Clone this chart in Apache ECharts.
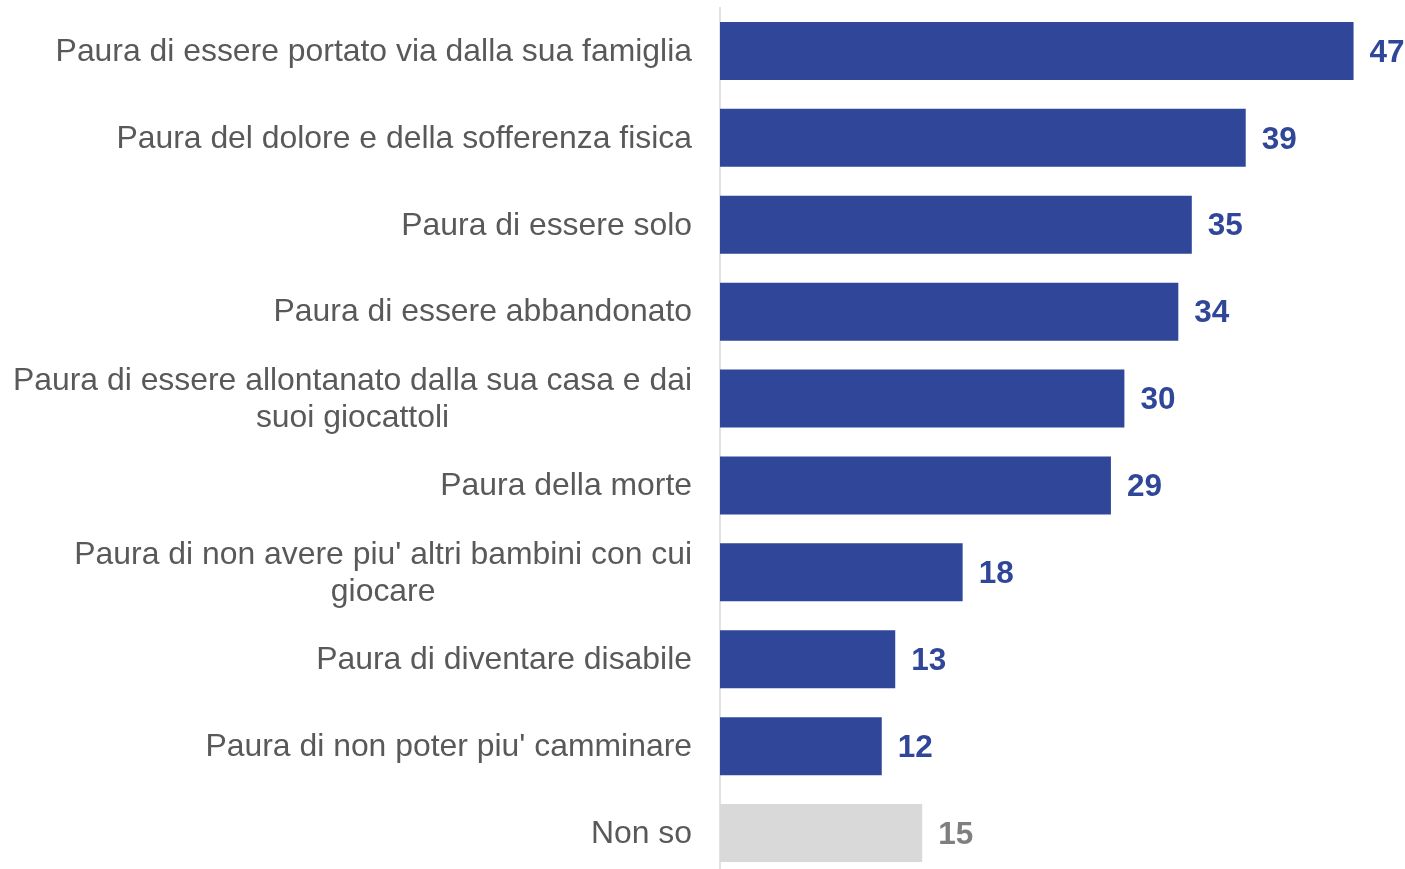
<!DOCTYPE html>
<html>
<head>
<meta charset="utf-8">
<script src="https://cdn.jsdelivr.net/npm/echarts@6/dist/echarts.min.js"></script>
<style>
  html, body { margin: 0; padding: 0; background: #ffffff; }
  #chart { width: 1405px; height: 869px; }
</style>
</head>
<body>
<div id="chart"></div>
<script>
// Fears, share of answers (%), listed top to bottom
const categories = [
  "Paura di essere portato via dalla sua famiglia",
  "Paura del dolore e della sofferenza fisica",
  "Paura di essere solo",
  "Paura di essere abbandonato",
  "Paura di essere allontanato dalla sua casa e dai\nsuoi giocattoli",
  "Paura della morte",
  "Paura di non avere piu' altri bambini con cui\ngiocare",
  "Paura di diventare disabile",
  "Paura di non poter piu' camminare",
  "Non so"
];
const values = [47, 39, 35, 34, 30, 29, 18, 13, 12, 15];
const neutralCategory = "Non so";

const BLUE = "#2F4699";
const GREY_BAR = "#D9D9D9";
const GREY_LABEL = "#7F7F7F";
const FONT = "'Liberation Sans', Arial, sans-serif";

const chart = echarts.init(document.getElementById("chart"), null, { renderer: "canvas" });

chart.setOption({
  animation: false,
  backgroundColor: "#ffffff",
  grid: {
    left: 720, top: 7.5, width: 674, height: 869,
    containLabel: false,
    outerBoundsMode: "none"
  },
  xAxis: {
    type: "value",
    min: 0,
    max: 50,
    show: false
  },
  yAxis: {
    type: "category",
    data: categories,
    inverse: true,
    axisLine: { show: true, lineStyle: { color: "#D9D9D9", width: 1.5 } },
    axisTick: { show: false },
    splitLine: { show: false },
    axisLabel: {
      margin: 28,
      align: "right",
      verticalAlign: "middle",
      padding: [2, 0, 0, 0],
      formatter: v => v.split("\n").map(s => "{c|" + s + "}").join("\n"),
      rich: {
        c: {
          align: "center",
          fontFamily: FONT,
          fontSize: 31.9,
          lineHeight: 37,
          color: "#595959"
        }
      }
    }
  },
  series: [{
    type: "bar",
    barWidth: 58,
    itemStyle: {
      color: p => (p.name === neutralCategory ? GREY_BAR : BLUE)
    },
    label: {
      show: true,
      position: "right",
      distance: 16,
      offset: [0, 2],
      fontFamily: FONT,
      fontSize: 31.5,
      fontWeight: "bold",
      formatter: p => String(p.value)
    },
    data: values.map((v, i) => ({
      value: v,
      label: { color: categories[i] === neutralCategory ? GREY_LABEL : BLUE }
    }))
  }]
});
</script>
</body>
</html>
